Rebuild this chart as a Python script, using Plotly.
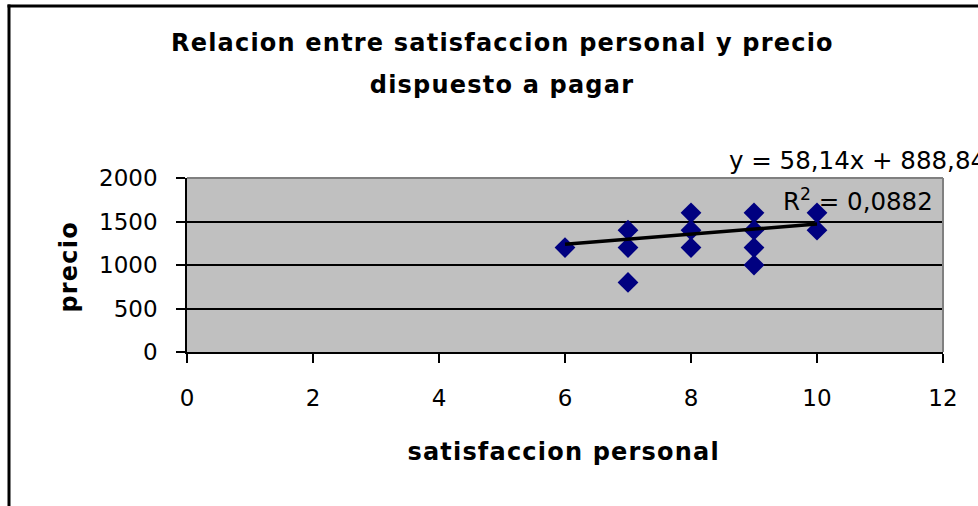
import numpy as np
import plotly.graph_objects as go

# datos
satisfaccion = [6, 7, 7, 7, 8, 8, 8, 9, 9, 9, 9, 10, 10]
precio = [1200, 1400, 1200, 800, 1600, 1400, 1200, 1600, 1400, 1200, 1000, 1600, 1400]

# linea de tendencia de Excel
pendiente = 58.14
intercepto = 888.84
r2 = 0.0882

x_ticks = [0, 2, 4, 6, 8, 10, 12]
y_ticks = [0, 500, 1000, 1500, 2000]

W, H = 978, 506
L, R, T, B = 187, 35, 178, 154
pw, ph = W - L - R, H - T - B


def px_to_paper(x, y):
    return (x - L) / pw, (H - B - y) / ph


def num(v, d):
    return f"{v:.{d}f}".replace(".", ",")


font = "DejaVu Sans, Arial, sans-serif"
bold = dict(family=font, size=24, color="black", weight="bold")
normal = dict(family=font, size=23, color="black")
anot = dict(family=font, size=24.5, color="black")

x_tr = np.array([min(satisfaccion), max(satisfaccion)])
y_tr = pendiente * x_tr + intercepto

fig = go.Figure()
fig.add_trace(go.Scatter(x=satisfaccion, y=precio, mode="markers",
                         marker={"symbol": "diamond", "size": 16, "color": "#000080"},
                         cliponaxis=False, showlegend=False))
fig.add_trace(go.Scatter(x=x_tr, y=y_tr, mode="lines",
                         line={"color": "black", "width": 3.5}, showlegend=False))

fig.update_layout(width=W, height=H,
                  margin={"l": L, "r": R, "t": T, "b": B, "pad": 0},
                  paper_bgcolor="white", plot_bgcolor="#C0C0C0",
                  showlegend=False)
fig.update_xaxes(range=[0, 12], tickvals=x_ticks, showgrid=False, zeroline=False,
                 showline=True, linecolor="black", linewidth=1.5,
                 ticks="outside", ticklen=9, tickwidth=1.5, tickcolor="black",
                 ticklabelstandoff=16, tickfont=normal)
fig.update_yaxes(range=[0, 2000], tickvals=y_ticks, showgrid=True, gridcolor="black",
                 gridwidth=1.5, zeroline=False,
                 showline=True, linecolor="black", linewidth=1.5,
                 ticks="outside", ticklen=9, tickwidth=1.5, tickcolor="black",
                 ticklabelstandoff=14, tickfont=normal)

# borde gris del area de trazado (arriba y derecha)
fig.add_shape(type="line", xref="paper", yref="paper", x0=0, x1=1, y0=1, y1=1,
              line={"color": "#808080", "width": 2})
fig.add_shape(type="line", xref="paper", yref="paper", x0=1, x1=1, y0=0, y1=1,
              line={"color": "#808080", "width": 2})

# marco del grafico (se sale por la derecha y abajo)
fx0, fy0 = px_to_paper(7.5, 4.5)
fx1, fy1 = px_to_paper(990, 7.5)
fx2, fy2 = px_to_paper(10.5, 520)
fig.add_shape(type="rect", xref="paper", yref="paper", x0=fx0, x1=fx1, y0=fy1, y1=fy0,
              line={"width": 0}, fillcolor="black")
fig.add_shape(type="rect", xref="paper", yref="paper", x0=fx0, x1=fx2, y0=fy2, y1=fy0,
              line={"width": 0}, fillcolor="black")


def texto(x, y, s, f, **kw):
    ax, ay = px_to_paper(x, y)
    opts = {"xanchor": "center", "yanchor": "middle"}
    opts.update(kw)
    fig.add_annotation(x=ax, y=ay, xref="paper", yref="paper", showarrow=False,
                       text=s, font=f, **opts)


texto(502, 43, "Relacion entre satisfaccion personal y precio", bold)
texto(502, 85, "dispuesto a pagar", bold)
texto(563, 452, "satisfaccion personal", bold)
texto(69, 267, "precio", bold, textangle=-90)
texto(727, 160, f"y = {num(pendiente, 2)}x + {num(intercepto, 2)}", anot, xanchor="left")
texto(781, 200, f"R<sup>2</sup> = {num(r2, 4)}", anot, xanchor="left")

post = """
document.body.style.margin = '0';
document.querySelectorAll('.annotation-text').forEach(function (t) {
  var w = getComputedStyle(t).fontWeight;
  if (w === '700' || w === 'bold') { t.style.letterSpacing = '1.2px'; }
});
"""
fig.write_html("out.html", post_script=post, config={"displayModeBar": False})
